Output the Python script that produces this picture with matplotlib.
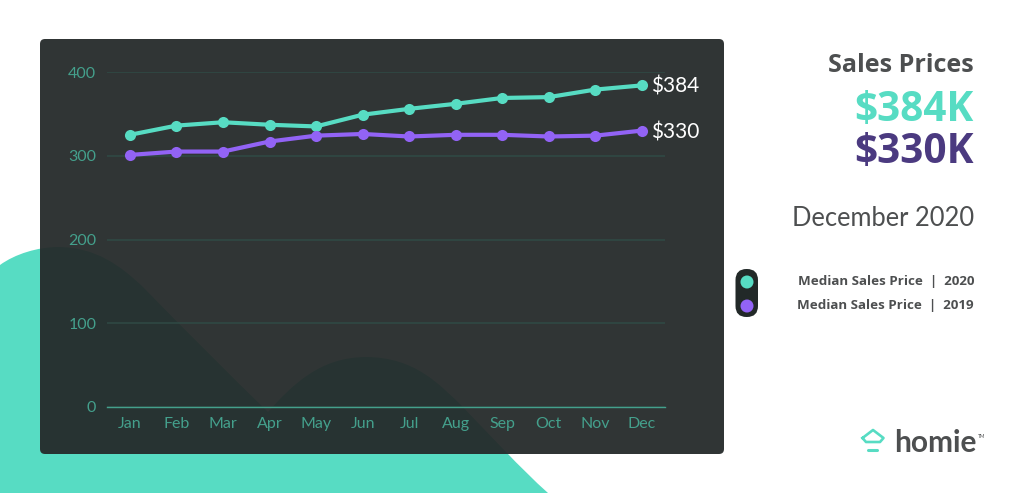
# Median sales prices, 2020 vs 2019, card style chart
import matplotlib
matplotlib.use("Agg")
import matplotlib.pyplot as plt
from matplotlib.patches import Circle, FancyBboxPatch, PathPatch
from matplotlib.path import Path

plt.rcParams['font.family'] = ['Lato', 'DejaVu Sans']

months = ["Jan", "Feb", "Mar", "Apr", "May", "Jun", "Jul", "Aug", "Sep", "Oct", "Nov", "Dec"]
prices_2020 = [325, 336, 340, 337, 335, 349, 356, 362, 369, 370, 379, 384]
prices_2019 = [301, 305, 305, 317, 324, 326, 323, 325, 325, 323, 324, 330]
y_ticks = [0, 100, 200, 300, 400]

teal = "#57dcc3"
purple = "#9263f5"
dark_purple = "#4b3a80"
grey_text = "#4d4f50"
axis_teal = "#44a08c"
card = "#252a2a"

W, H = 1024, 493
fig = plt.figure(figsize=(W / 100, H / 100), dpi=100, facecolor="white")

# background layer in pixel coordinates
bg = fig.add_axes([0, 0, 1, 1])
bg.set_xlim(0, W)
bg.set_ylim(H, 0)
bg.axis("off")

# teal blob behind the card
v = [(0, 493), (0, 265),
     (15, 254), (38, 247), (58, 247),
     (95, 247), (120, 265), (143, 287),
     (185, 330), (230, 375), (268, 412),
     (292, 385), (320, 357), (366, 357),
     (415, 357), (440, 385), (461, 405),
     (490, 435), (520, 468), (548, 493),
     (0, 493)]
c = [Path.MOVETO, Path.LINETO] + [Path.CURVE4] * 18 + [Path.CLOSEPOLY]
bg.add_patch(PathPatch(Path(v, c), fc=teal, ec="none", zorder=1))

# dark card, slightly see-through so that the blob shows
bg.add_patch(FancyBboxPatch((40, 39), 684, 415, boxstyle="round,pad=0,rounding_size=5",
                            fc=card, ec="none", alpha=0.95, zorder=2))

# legend pill
bg.add_patch(FancyBboxPatch((735.5, 269), 22.5, 48, boxstyle="round,pad=0,rounding_size=11",
                            fc="#222928", ec="none", zorder=2))
bg.add_patch(Circle((747, 282), 6.5, fc=teal, ec="none", zorder=3))
bg.add_patch(Circle((747, 306), 6.5, fc=purple, ec="none", zorder=3))

# right hand text
head = ['Open Sans', 'DejaVu Sans']
bg.text(974, 65, "Sales Prices", ha="right", va="center", fontsize=18.1, fontweight="bold", color=grey_text, family=head)
bg.text(974, 110, "$384K", ha="right", va="center", fontsize=29.2, fontweight="bold", color=teal, family=head)
bg.text(974, 153, "$330K", ha="right", va="center", fontsize=29.2, fontweight="bold", color=dark_purple, family=head)
bg.text(974, 218, "December 2020", ha="right", va="center", fontsize=18.4, color=grey_text)
bg.text(974, 281, "Median Sales Price  |  2020", ha="right", va="center", fontsize=9.65, fontweight="bold", color=grey_text, family=head)
bg.text(974, 305, "Median Sales Price  |  2019", ha="right", va="center", fontsize=9.65, fontweight="bold", color=grey_text, family=head)

# logo
bg.plot([862.5, 873, 883.5, 880, 866, 862.5], [438, 430, 438, 442, 442, 438], color=teal, lw=1.9,
        solid_joinstyle="round", zorder=3)
bg.plot([868, 877], [450, 450], color=teal, lw=2.2, solid_capstyle="round", zorder=3)
bg.text(894, 452, "homie", ha="left", va="baseline", fontsize=21.5, fontweight="bold", color=grey_text)
bg.text(978, 438, "TM", ha="left", va="baseline", fontsize=3.5, color=grey_text)

# chart axes, placed on the card
x0, x1 = 106.7, 665
y_top, y_bottom = 72, 407
ax = fig.add_axes([x0 / W, 1 - y_bottom / H, (x1 - x0) / W, (y_bottom - y_top) / H])
ax.patch.set_alpha(0)
xs = list(range(len(months)))
ax.set_xlim(-0.5, 11.5)
ax.set_ylim(0, 400)
ax.set_yticks(y_ticks)
ax.set_xticks(xs)
ax.set_xticklabels(months)
ax.tick_params(length=0, labelsize=11.5, labelcolor=axis_teal)
ax.tick_params(axis="x", pad=7)
ax.tick_params(axis="y", pad=7.5)
ax.grid(axis="y", color="#2f4a45", lw=1.1)
ax.set_axisbelow(True)
for side in ["top", "right", "left"]:
    ax.spines[side].set_visible(False)
ax.spines["bottom"].set_color(axis_teal)
ax.spines["bottom"].set_linewidth(1)

ax.plot(xs, prices_2020, color=teal, lw=3, marker="o", ms=8, mew=0, clip_on=False)
ax.plot(xs, prices_2019, color=purple, lw=3, marker="o", ms=8, mew=0, clip_on=False)
ax.annotate("$384", (11, prices_2020[-1]), xytext=(7, -1), textcoords="offset points",
            va="center", fontsize=15, color="white", annotation_clip=False)
ax.annotate("$330", (11, prices_2019[-1]), xytext=(7, -1), textcoords="offset points",
            va="center", fontsize=15, color="white", annotation_clip=False)

fig.savefig("out.png", dpi=100)
